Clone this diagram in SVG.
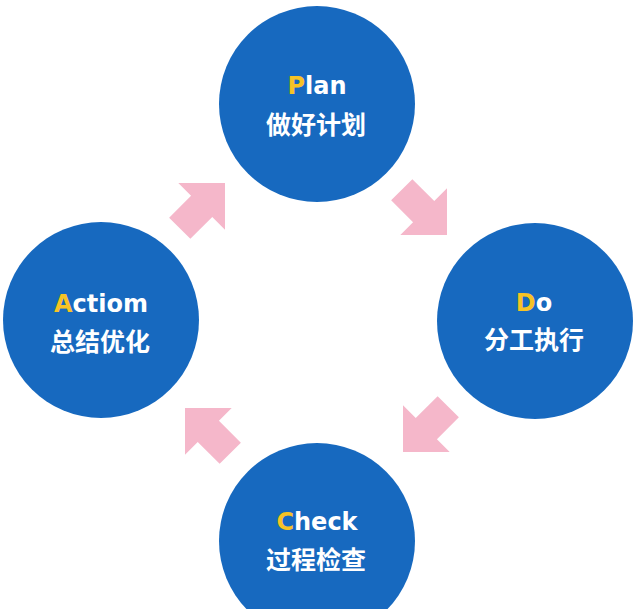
<svg xmlns="http://www.w3.org/2000/svg" width="640" height="609" viewBox="0 0 640 609">
<defs>
<style>
.c{fill:#1769bf;}
.en{font-family:"DejaVu Sans","Liberation Sans",sans-serif;font-weight:bold;font-size:24px;fill:#ffffff;text-anchor:middle;}
.en tspan.y{fill:#f6c325;}
.zh{font-family:"Noto Sans CJK SC","Noto Sans",sans-serif;font-weight:bold;font-size:25px;fill:#ffffff;text-anchor:middle;}
.ar{fill:#f5b7ca;}
</style>
<path id="arrow" d="M0,0 L-33,-33 L-33,-15 L-64,-15 L-64,15 L-33,15 L-33,33 Z"/>
</defs>
<rect width="640" height="609" fill="#ffffff"/>
<g id="connectors">
<use href="#arrow" class="ar" transform="translate(225,183) rotate(-45)"/>
<use href="#arrow" class="ar" transform="translate(447,235) rotate(45)"/>
<use href="#arrow" class="ar" transform="translate(403,452) rotate(135)"/>
<use href="#arrow" class="ar" transform="translate(185,408) rotate(-135)"/>
</g>
<g id="plan">
<circle class="c" cx="317" cy="104" r="98"/>
<text class="en" x="317" y="94"><tspan class="y">P</tspan>lan</text>
<text class="zh" x="316" y="134">做好计划</text>
</g>
<g id="do">
<circle class="c" cx="535" cy="321" r="98"/>
<text class="en" x="534" y="311"><tspan class="y">D</tspan>o</text>
<text class="zh" x="534" y="349">分工执行</text>
</g>
<g id="check">
<circle class="c" cx="317" cy="541" r="98"/>
<text class="en" x="317" y="530"><tspan class="y">C</tspan>heck</text>
<text class="zh" x="316" y="569">过程检查</text>
</g>
<g id="action">
<circle class="c" cx="101" cy="320" r="98"/>
<text class="en" x="101" y="312"><tspan class="y">A</tspan>ctiom</text>
<text class="zh" x="100" y="351">总结优化</text>
</g>
</svg>
